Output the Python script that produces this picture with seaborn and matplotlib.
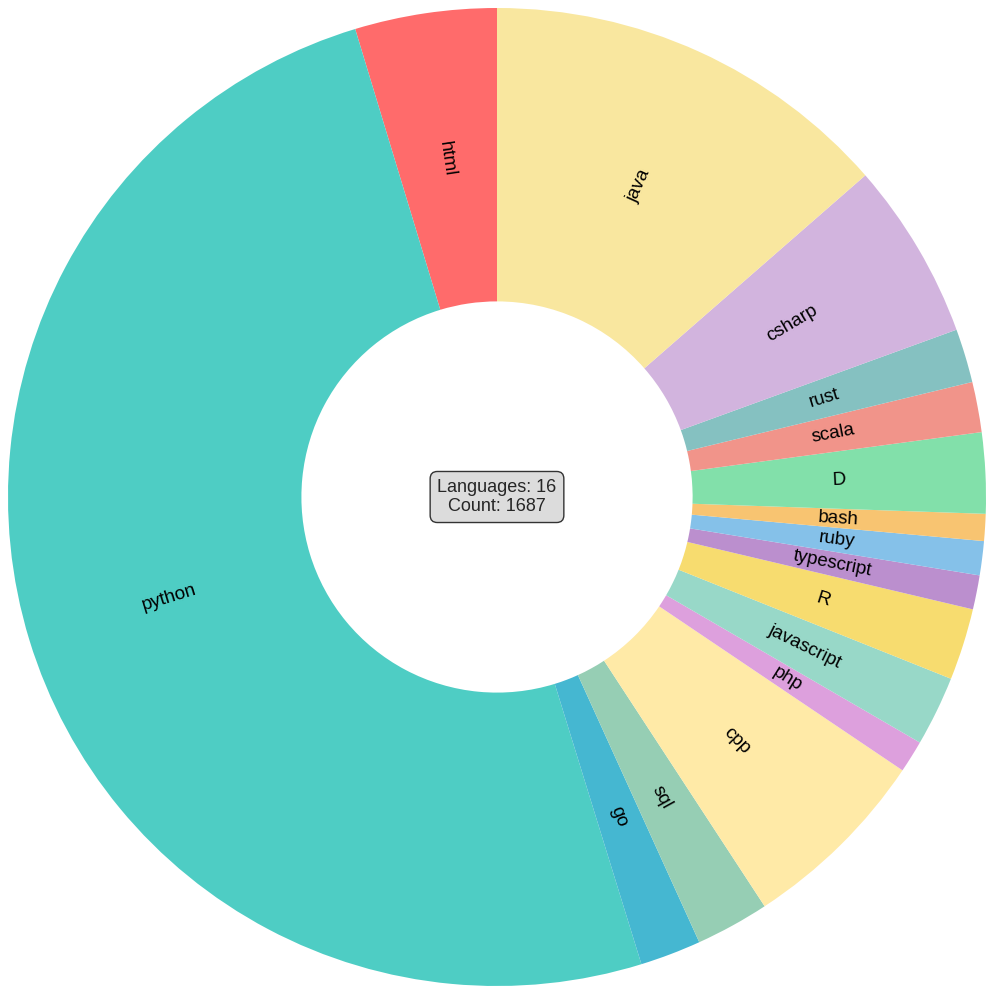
import numpy as np
import matplotlib
matplotlib.use("Agg")
import matplotlib.pyplot as plt
import seaborn as sns

# data (order as drawn counter-clockwise from 12 o'clock)
languages = ['html', 'python', 'go', 'sql', 'cpp', 'php', 'javascript', 'R',
             'typescript', 'ruby', 'bash', 'D', 'scala', 'rust', 'csharp', 'java']
counts = [79, 845, 34, 41, 107, 18, 39, 40, 19, 19, 15, 45, 28, 30, 99, 229]
colors = ['#FF6B6B', '#4ECDC4', '#45B7D1', '#96CEB4', '#FFEAA7', '#DDA0DD',
          '#98D8C8', '#F7DC6F', '#BB8FCE', '#85C1E9', '#F8C471', '#82E0AA',
          '#F1948A', '#85C1C1', '#D2B4DE', '#F9E79F']

sns.set_theme(style='white')
plt.rcParams['font.family'] = ['Liberation Sans', 'DejaVu Sans']

fig = plt.figure(figsize=(9.97, 10), dpi=100)
ax = fig.add_axes([8 / 997, 14 / 1000, 978 / 997, 978 / 1000])

wedges, _ = ax.pie(counts, colors=sns.color_palette(colors), startangle=90,
                   counterclock=True, radius=1.0,
                   wedgeprops=dict(width=0.6, linewidth=0, edgecolor='none'))

# labels in the middle of the ring, rotated along the radius
for w, name in zip(wedges, languages):
    mid = (w.theta1 + w.theta2) / 2
    rad = np.deg2rad(mid)
    x, y = 0.7 * np.cos(rad), 0.7 * np.sin(rad)
    rot = mid if np.cos(rad) > 0 else mid + 180
    ax.text(x, y, name, ha='center', va='center', rotation=rot,
            rotation_mode='anchor', fontsize=13.5, color='black')

# centre summary box
ax.text(0, 0, f"Languages: {len(languages)}\nCount: {sum(counts)}",
        ha='center', va='center', fontsize=13, linespacing=1.2,
        bbox=dict(boxstyle='round,pad=0.4', facecolor='#DCDCDC',
                  edgecolor='#333333', linewidth=1))

ax.set_xlim(-1, 1)
ax.set_ylim(-1, 1)
ax.set_aspect('equal')
ax.axis('off')

fig.savefig('out.png', dpi=100, facecolor='white')
